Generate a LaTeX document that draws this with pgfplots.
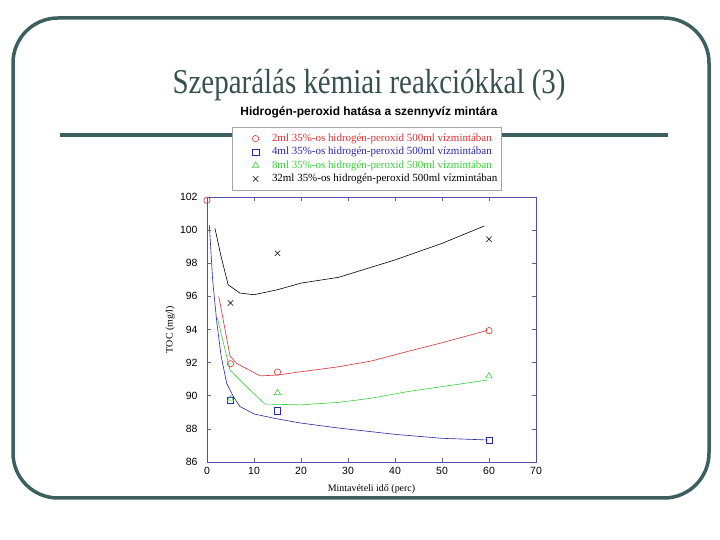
\documentclass[border=0pt]{standalone}
\usepackage{fontspec}
\setmainfont{Liberation Serif}
\newfontfamily\arial{Liberation Sans}
\usepackage{pgfplots}
\pgfplotsset{compat=1.18}

\definecolor{framecol}{RGB}{60,95,95}
\definecolor{titlecol}{RGB}{55,80,80}
\definecolor{axiscol}{RGB}{80,80,170}
\definecolor{red2}{RGB}{215,50,50}
\definecolor{blue2}{RGB}{40,40,165}
\definecolor{green2}{RGB}{60,205,60}

\begin{document}
\begin{tikzpicture}
\useasboundingbox (0,0) rectangle (720bp,540bp);
\fill[white] (0,0) rectangle (720bp,540bp);

% slide frame, title and rule
\draw[line width=3.5bp, framecol, rounded corners=45bp] (13bp,42bp) rectangle (709bp,522bp);
\node[anchor=base, text=titlecol, inner sep=0pt] at (369bp,446bp)
  {\scalebox{0.83}[1]{\fontsize{35}{40}\selectfont Szeparálás kémiai reakciókkal (3)}};
\draw[line width=4bp, framecol] (60bp,405bp) -- (668bp,405bp);
\node[anchor=base, inner sep=0pt] at (369bp,424bp)
  {\arial\bfseries\fontsize{12}{14}\selectfont Hidrogén-peroxid hatása a szennyvíz mintára};

\begin{axis}[
    at={(207bp,78bp)}, anchor=south west,
    width=329bp, height=265bp, scale only axis,
    xmin=0, xmax=70, ymin=86, ymax=102,
    xtick={0,10,...,70},
    ytick={86,88,...,102},
    tick align=inside,
    major tick length=4bp,
    axis line style={axiscol, line width=0.9bp},
    tick style={axiscol!60!gray, line width=0.6bp},
    ticklabel style={font=\arial\fontsize{10.5}{12}\selectfont},
    xticklabel style={yshift=-2bp},
    yticklabel style={xshift=-6bp},
    /pgf/number format/assume math mode=true,
    xlabel={Mintavételi idő (perc)},
    ylabel={TOC (mg/l)},
    label style={font=\fontsize{10}{12}\selectfont},
    xlabel style={at={(axis description cs:0.5,-0.102)}, anchor=center},
    ylabel style={at={(axis description cs:-0.112,0.5)}, anchor=center},
    legend style={at={(axis description cs:0.076,1.026)}, anchor=south west,
        draw=gray!70, fill=white, line width=0.6bp,
        font=\fontsize{11}{13}\selectfont,
        inner xsep=2.5bp, inner ysep=4.5bp, row sep=0.5bp,
        nodes={inner sep=1.2bp, text height=8bp, text depth=2.5bp}},
    legend cell align=left,
    legend image code/.code={
        \path[draw=none, fill=none] (0bp,0bp) -- (36bp,0bp);
        \draw[#1] plot coordinates {(20.8bp,0bp)};},
]

% fitted curves
\addplot[red2, line width=0.6bp, forget plot] coordinates {
    (2.5,96.0) (4.9,92.4) (6.3,91.95) (11.3,91.2) (15,91.25) (20,91.45)
    (28,91.75) (35,92.1) (42.5,92.66) (50,93.2) (59.7,93.95)
};
\addplot[blue2, line width=0.6bp, forget plot] coordinates {
    (0.5,100.3) (1.2,97.0) (2.1,94.4) (3,92.4) (4.2,90.75) (5.5,90.0)
    (7,89.35) (10,88.9) (15,88.6) (20,88.35) (28,88.05) (40,87.67)
    (50,87.43) (59.7,87.33)
};
\addplot[green2, line width=0.6bp, forget plot] coordinates {
    (2.2,94.7) (4.9,91.55) (7.7,90.75) (12.3,89.5) (20,89.45) (28,89.6)
    (35,89.85) (42.5,90.24) (50,90.55) (59.7,90.95)
};
\addplot[black, line width=0.6bp, forget plot] coordinates {
    (1.7,100.1) (3,98.4) (4.5,96.7) (7,96.2) (10,96.1) (15,96.4)
    (20,96.8) (28,97.15) (40,98.2) (50,99.2) (59,100.25)
};

% measured points
\addplot[only marks, mark=o, mark size=3.2bp, red2, line width=0.6bp] coordinates {
    (0,101.8) (5,91.93) (15,91.43) (60,93.93)
};
\addlegendentry{\textcolor{red2}{2ml 35\%-os hidrogén-peroxid 500ml vízmintában}}
\addplot[only marks, mark=square, mark size=3.2bp, blue2, line width=0.6bp] coordinates {
    (5,89.74) (15,89.08) (60,87.3)
};
\addlegendentry{\textcolor{blue2}{4ml 35\%-os hidrogén-peroxid 500ml vízmintában}}
\addplot[only marks, mark=triangle, mark size=3.6bp, green2, line width=0.6bp] coordinates {
    (5,89.8) (15,90.18) (60,91.19)
};
\addlegendentry{\textcolor{green2}{8ml 35\%-os hidrogén-peroxid 500ml vízmintában}}
\addplot[only marks, mark=x, mark size=3.8bp, black, line width=0.6bp] coordinates {
    (5,95.6) (15,98.6) (60,99.45)
};
\addlegendentry{32ml 35\%-os hidrogén-peroxid 500ml vízmintában}
\end{axis}
\end{tikzpicture}
\end{document}
